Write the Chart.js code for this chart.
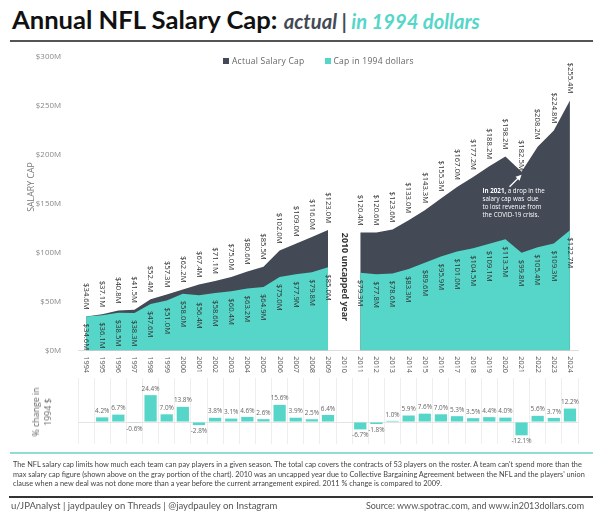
<!DOCTYPE html>
<html><head><meta charset="utf-8">
<script src="https://cdn.jsdelivr.net/npm/chart.js@4"></script>
<style>
html,body{margin:0;padding:0;background:#fff;width:600px;height:520px;overflow:hidden}
body{position:relative;font-family:"Open Sans",sans-serif}
.a{position:absolute;white-space:nowrap}
#title{left:12px;top:0px;font:700 25.6px Lato,sans-serif;color:#111;line-height:38px}
#title .s{font-size:20.2px;font-style:italic;color:#434a56}
#title .t{font-size:20.2px;font-style:italic;color:#55d6c9}
.rule{position:absolute}
#c1{position:absolute;left:0;top:43px;width:600px;height:337px}
#c2{position:absolute;left:0;top:372px;width:600px;height:78px}
#legend{top:55px;left:223px;font-size:8.5px;color:#666;line-height:12px;letter-spacing:.25px}
#legend i{display:inline-block;width:6px;height:6px;margin-right:3px;vertical-align:0}
#legend span{margin-right:20px}
#pct{left:42px;top:412px;transform:translate(-50%,-50%) rotate(-90deg);text-align:center;font-size:8.8px;color:#666;line-height:12px}
#note{left:13px;top:460px;font:7.35px Lato,sans-serif;line-height:9.6px;color:#444}
#foot{left:11px;top:498px;font:9.55px Lato,sans-serif;color:#555;line-height:16px}
#src{right:16px;top:498px;font:8.95px Lato,sans-serif;color:#555;line-height:16px}
</style></head><body>
<div class="a" id="title">Annual NFL Salary Cap: <span class="s">actual | </span><span class="t">in 1994 dollars</span></div>
<div class="rule" style="left:10px;top:40px;width:583px;height:2px;background:#555"></div>
<canvas id="c1" width="600" height="337"></canvas>
<canvas id="c2" width="600" height="78"></canvas>
<div class="a" id="legend"></div>
<div class="a" id="pct">% change in<br>1994 $</div>
<div class="rule" style="left:10px;top:452px;width:583px;height:2px;background:#93dcd3"></div>
<div class="a" id="note">The NFL salary cap limits how much each team can pay players in a given season. The total cap covers the contracts of 53 players on the roster. A team can't spend more than the<br>max salary cap figure (shown above on the gray portion of the chart). 2010 was an uncapped year due to Collective Bargaining Agreement between the NFL and the players' union<br>clause when a new deal was not done more than a year before the current arrangement expired. 2011 % change is compared to 2009.</div>
<div class="rule" style="left:9px;top:496px;width:584px;height:2px;background:#333"></div>
<div class="a" id="foot">u/JPAnalyst | jaydpauley on Threads | @jaydpauley on Instagram</div>
<div class="a" id="src">Source: www.spotrac.com, and www.in2013dollars.com</div>
<script>
const years = ["1994","1995","1996","1997","1998","1999","2000","2001","2002","2003","2004","2005","2006","2007","2008","2009","2010","2011","2012","2013","2014","2015","2016","2017","2018","2019","2020","2021","2022","2023","2024"];
const actualCap = [34.6,37.1,40.8,41.5,52.4,57.3,62.2,67.4,71.1,75.0,80.6,85.5,102.0,109.0,116.0,123.0,null,120.4,120.6,123.6,133.0,143.3,155.3,167.0,177.2,188.2,198.2,182.5,208.2,224.8,255.4];
const cap1994 = [34.6,36.1,38.5,38.3,47.6,51.0,58.0,56.4,58.6,60.4,63.2,64.9,75.0,77.9,79.8,85.0,null,79.3,77.8,78.6,83.3,89.6,95.9,101.0,104.5,109.1,113.5,99.8,105.4,109.3,122.7];
const pctChange = [null,4.2,6.7,-0.6,24.4,7.0,13.8,-2.8,3.8,3.1,4.6,2.6,15.6,3.9,2.5,6.4,null,-6.7,-1.8,1.0,5.9,7.6,7.0,5.3,3.5,4.4,4.0,-12.1,5.6,3.7,12.2];
const yTicks = [0,50,100,150,200,250,300];
const DARK="#434a56", TEAL="#55d6c9", FONT='"Open Sans",sans-serif';
Chart.defaults.font.family=FONT;
Chart.defaults.animation=false;

const labelsPlugin={id:"capLabels",afterDatasetsDraw(ch){
  const c=ch.ctx,x=ch.scales.x,y=ch.scales.y;
  c.save();c.font="7.7px "+FONT;c.fillStyle="#333";c.textBaseline="middle";
  const put=(v,i,align,gap)=>{ if(v==null)return;
    c.save();c.translate(x.getPixelForValue(i),y.getPixelForValue(v)+gap);c.rotate(Math.PI/2);c.textAlign=align;
    c.fillText("$"+v.toFixed(1)+"M",0,0);c.restore();};
  actualCap.forEach((v,i)=>put(v,i,"right",years[i]==="2021"?-1:-7));
  cap1994.forEach((v,i)=>put(v,i,"left",7));
  // uncapped-year note
  c.save();c.translate(x.getPixelForValue(years.indexOf("2010")),234);c.rotate(Math.PI/2);
  c.font="bold 8.9px "+FONT;c.fillStyle="#333";c.textAlign="center";c.fillText("2010 uncapped year",0,0);c.restore();
  // y title
  c.save();c.translate(31,144);c.rotate(-Math.PI/2);c.font="8.8px "+FONT;c.fillStyle="#777";c.textAlign="center";c.fillText("SALARY CAP",0,0);c.restore();
  // 2021 note
  const i21=years.indexOf("2021"),ax=x.getPixelForValue(i21),ay=y.getPixelForValue(actualCap[i21])+3;
  c.strokeStyle="#fff";c.fillStyle="#fff";c.lineWidth=1.2;
  c.beginPath();c.moveTo(ax-12,ay+12);c.lineTo(ax-2,ay+2);c.stroke();
  c.beginPath();c.moveTo(ax,ay);c.lineTo(ax-6,ay+2);c.lineTo(ax-2,ay+6);c.closePath();c.fill();
  c.textAlign="left";c.font="bold 6.2px "+FONT;
  const tx=x.getPixelForValue(i21)-39,ty=y.getPixelForValue(actualCap[i21])+19;
  c.fillText("In 2021,",tx,ty);
  const w=c.measureText("In 2021, ").width;c.font="6.2px "+FONT;
  c.fillText("a drop in the",tx+w,ty);
  c.fillText("salary cap was  due",tx,ty+8.3);
  c.fillText("to lost revenue from",tx,ty+16.6);
  c.fillText("the COVID-19 crisis.",tx,ty+24.9);
  c.restore();
}};
new Chart(document.getElementById("c1"),{type:"line",
 data:{labels:years,datasets:[
  {label:"Cap in 1994 dollars",data:cap1994,borderWidth:0,borderColor:TEAL,backgroundColor:TEAL,fill:"origin",pointRadius:0,tension:0,spanGaps:false,order:1},
  {label:"Actual Salary Cap",data:actualCap,borderWidth:0,borderColor:DARK,backgroundColor:DARK,fill:"origin",pointRadius:0,tension:0,spanGaps:false,order:2}
 ]},
 options:{responsive:false,maintainAspectRatio:false,
  layout:{autoPadding:false,padding:{top:6,right:22,left:0,bottom:0}},
  plugins:{legend:{display:false},tooltip:{enabled:false}},
  scales:{
   x:{type:"category",offset:true,grid:{display:false,drawTicks:false},border:{color:"#ddd"},
      ticks:{autoSkip:false,minRotation:-90,maxRotation:-90,padding:22.5,color:"#555",font:{size:7.3}},
      afterFit(s){s.height=29.5;}},
   y:{min:0,max:300,grid:{display:false},border:{display:false},
      afterBuildTicks(s){s.ticks=yTicks.map(v=>({value:v}));},
      ticks:{padding:9,color:"#888",font:{size:7.9},callback:v=>"$"+v+"M"},
      afterFit(s){s.width=78;}}
  }},plugins:[labelsPlugin]});

const pctPlugin={id:"pctLabels",afterDatasetsDraw(ch){
  const c=ch.ctx,x=ch.scales.x,y=ch.scales.y;
  c.save();c.font="6.4px "+FONT;c.fillStyle="#666";c.textAlign="center";
  pctChange.forEach((v,i)=>{if(v==null)return;
    const px=x.getPixelForValue(i),py=y.getPixelForValue(v);
    c.textBaseline=v<0?"top":"bottom";
    c.fillText(v.toFixed(1)+"%",px,py+(v<0?3:-3));});
  c.restore();
}};
new Chart(document.getElementById("c2"),{type:"bar",
 data:{labels:years,datasets:[{label:"% change in 1994 $",data:pctChange,backgroundColor:TEAL,barPercentage:.76,categoryPercentage:1}]},
 options:{responsive:false,maintainAspectRatio:false,
  layout:{autoPadding:false,padding:{top:6,right:22,left:0,bottom:6}},
  plugins:{legend:{display:false},tooltip:{enabled:false}},
  scales:{
   x:{offset:true,grid:{color:"#eee",drawTicks:false},border:{display:false},ticks:{display:false},afterFit(s){s.height=0;}},
   y:{min:-20,max:40,grid:{drawTicks:false,color:c=>c.tick.value===0?"#e4e4e4":"transparent"},border:{display:false},ticks:{display:false},afterFit(s){s.width=78;}}
  }},plugins:[pctPlugin]});

document.getElementById("legend").innerHTML=[["Actual Salary Cap",DARK],["Cap in 1994 dollars",TEAL]]
 .map(([t,col])=>`<i style="background:${col}"></i><span>${t}</span>`).join("");
</script>
</body></html>
